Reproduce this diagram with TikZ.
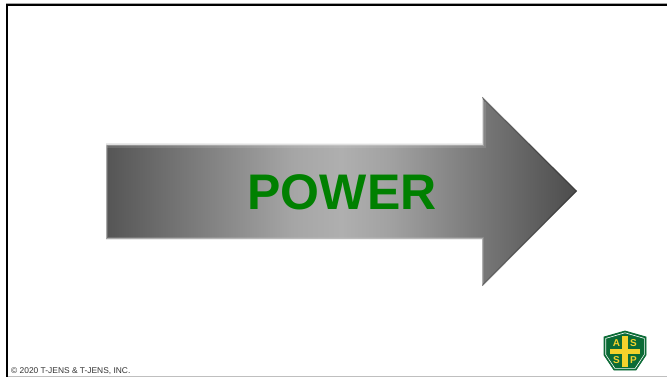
\documentclass[tikz,border=0pt]{standalone}
\usepackage{fontspec}
\setmainfont{Liberation Sans}
\definecolor{gL}{HTML}{555555}
\definecolor{gA}{HTML}{A6A6A6}
\definecolor{gC}{HTML}{AFAFAF}
\definecolor{gB}{HTML}{A2A2A2}
\definecolor{gR}{HTML}{4C4C4C}
\definecolor{powergreen}{HTML}{008000}
\definecolor{logogreen}{HTML}{0B6B36}
\definecolor{logoyellow}{HTML}{F4D22C}
\pgfdeclarehorizontalshading{arrowgrad}{100bp}{
 color(0bp)=(gL); color(25bp)=(gL); color(45bp)=(gA); color(50bp)=(gC); color(55bp)=(gB); color(75bp)=(gR); color(100bp)=(gR)}
\tikzset{
 x=1pt,y=-1pt,
 labeltext/.style={inner sep=0pt,anchor=center},
 logoletter/.style={labeltext,text=logoyellow,font=\bfseries\fontsize{10}{10}\selectfont},
}
\begin{document}
\begin{tikzpicture}
\useasboundingbox (0,0) rectangle (667,377);
\fill[white] (0,0) rectangle (667,377);
% frame
\draw[gray!70,line width=1pt] (6,3.5) -- (667,3.5);
\draw[black,line width=2.2pt] (7,377) -- (7,5) -- (667,5);
\draw[gray!50,line width=1.2pt] (8,376.2) -- (667,376.2);
% arrow
\path[shade,shading=arrowgrad] (106,144) -- (482,144) -- (482,97) -- (577,191) -- (482,286) -- (482,239) -- (106,239) -- cycle;
% soft bevel along the edges
\draw[white!88!black,line width=1.2pt,line join=round] (106,144.6) -- (482.6,144.6) -- (482.6,98);
\draw[white!88!black,opacity=.4,line width=1.2pt] (106,145.8) -- (483.8,145.8) -- (483.8,100);
\draw[white!88!black,opacity=.15,line width=1.5pt] (107,147.1) -- (485,147.1) -- (485,102);
\draw[white!75!black,opacity=.8,line width=1pt,line join=round] (106.5,144.6) -- (106.5,238.4) -- (482.5,238.4) -- (482.5,285);
\draw[white!75!black,opacity=.25,line width=1.2pt] (107.6,146) -- (107.6,237.2) -- (483.7,237.2) -- (483.7,283);
\draw[black,opacity=.22,line width=1.4pt,line join=round] (482.5,97.6) -- (576.3,191) -- (482.5,285.4);
\node[labeltext,text=powergreen,font=\bfseries\fontsize{50}{50}\selectfont] (power) at (342,192) {POWER};
\node[labeltext,anchor=west,text=black!80,font=\fontsize{8.4}{9}\selectfont] (copy) at (11,371.5) {© 2020 T-JENS \& T-JENS, INC.};
% logo
\path[fill=logogreen,draw=logogreen,line width=.8pt] (625,331) -- (646,337) -- (646,355) -- (636,370) -- (614,370) -- (604,355) -- (604,337) -- cycle;
\path[draw=white,line width=.6pt,line join=round] (625,332.8) -- (644.3,338.4) -- (644.3,354.6) -- (635.2,368.3) -- (614.8,368.3) -- (605.7,354.6) -- (605.7,338.4) -- cycle;
\fill[logoyellow] (622.2,335.5) rectangle (627.8,366.5);
\fill[logoyellow] (610,348.8) rectangle (640,354.3);
\node[logoletter] (la) at (616.5,343.5) {A};
\node[logoletter] (ls) at (633.5,343.5) {S};
\node[logoletter] (lt) at (616.5,360) {S};
\node[logoletter] (lp) at (633.5,360) {P};
\end{tikzpicture}
\end{document}
